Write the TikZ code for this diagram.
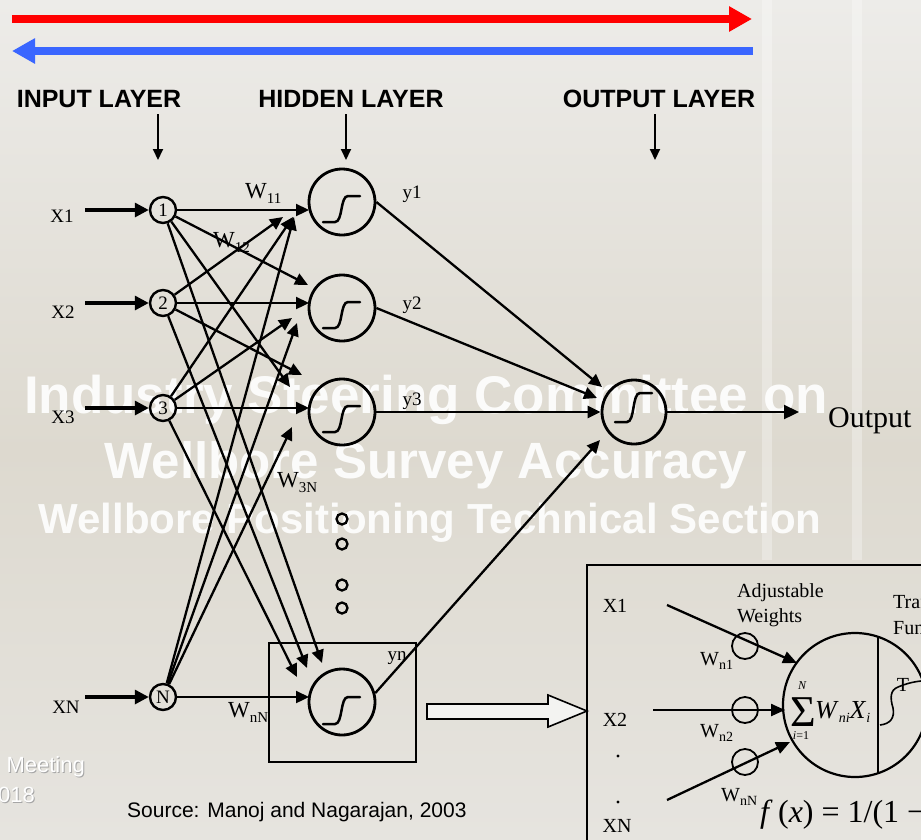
\documentclass[tikz,border=0pt]{standalone}
\usepackage{fontspec}
\setmainfont{Liberation Serif}
\newfontfamily\arialf{Liberation Sans}
\usetikzlibrary{arrows.meta,calc}
\definecolor{bgc}{RGB}{232,231,227}
\definecolor{bgtop}{RGB}{237,236,233}
\definecolor{bgmid}{RGB}{221,217,207}
\definecolor{bgbot}{RGB}{230,228,223}
\definecolor{redar}{RGB}{255,0,0}
\definecolor{bluear}{RGB}{58,102,255}
\newcommand{\fsz}[1]{\fontsize{#1}{#1}\selectfont}
\newcommand{\wsub}[1]{\raisebox{-5pt}{\fsz{15}#1}}
\newcommand{\isub}[1]{\raisebox{-4pt}{\fsz{14}#1}}
\newcommand{\sigm}[3]{\draw[sigline,shift={(#1)}] (-19,#2) -- (-7,#2) .. controls (1,#2) and (-2,#3) .. (6,#3) -- (18,#3);}
\tikzset{
  inode/.style={circle,draw,line width=2.4pt,minimum size=26pt,inner sep=0pt,font=\fsz{19}},
  hnode/.style={circle,draw,line width=2.8pt,minimum size=66pt,inner sep=0pt},
  conn/.style={line width=2.3pt,-{Triangle[length=13pt,width=12pt]}},
  inarrow/.style={line width=3.2pt,-{Triangle[length=14pt,width=14pt]}},
  downarrow/.style={line width=2pt,-{Triangle[length=11pt,width=10pt]}},
  lbl/.style={font=\fsz{19},inner sep=0pt},
  wl/.style={font=\fsz{23},inner sep=0pt,anchor=base west},
  iwl/.style={font=\fsz{20},inner sep=0pt,anchor=base west},
  layer/.style={font=\arialf\bfseries\fsz{25},inner sep=0pt,anchor=base},
  wm/.style={font=\arialf\bfseries,text=white,text opacity=0.9,inner sep=0pt,anchor=base},
  sigline/.style={line width=2.5pt,line cap=round},
  dotc/.style={circle,draw,line width=2.3pt,minimum size=11pt,inner sep=0pt},
  wcirc/.style={circle,draw,line width=1.8pt,minimum size=26pt,inner sep=0pt},
  iconn/.style={line width=2.3pt,-{Triangle[length=14pt,width=12pt]}},
  itext/.style={font=\fsz{20},inner sep=0pt}
}
\begin{document}
\begin{tikzpicture}[x=1pt,y=-1pt]
\useasboundingbox (0,0) rectangle (921,839);
\clip (0,0) rectangle (921,839);
\shade[top color=bgtop,bottom color=bgmid] (0,0) rectangle (921,450);
\shade[top color=bgmid,bottom color=bgbot] (0,449) rectangle (921,839);
\fill[white,fill opacity=0.3] (762,0) rectangle (772,560);
\fill[white,fill opacity=0.3] (852,0) rectangle (862,560);

% watermark
\node[wm,font=\arialf\bfseries\fsz{53}] (wm1) at (426,413) {Industry Steering Committee on};
\node[wm,font=\arialf\bfseries\fsz{51}] (wm2) at (426,478) {Wellbore Survey Accuracy};
\node[wm,font=\arialf\bfseries\fsz{42}] (wm3) at (430,533) {Wellbore Positioning Technical Section};

% meeting text
\node[font=\arialf\fsz{22},text=gray!70,inner sep=0pt,anchor=base east] (mt0) at (86,773) {Meeting};
\node[font=\arialf\fsz{22},text=white,inner sep=0pt,anchor=base east] (mt) at (85,772) {Meeting};
\node[font=\arialf\fsz{22},text=gray!70,inner sep=0pt,anchor=base east] (yr0) at (36,803) {018};
\node[font=\arialf\fsz{22},text=white,inner sep=0pt,anchor=base east] (yr) at (35,802) {018};

% top arrows
\coordinate (ra) at (12,19); \coordinate (rb) at (752,19);
\draw[line width=8pt,redar,-{Triangle[length=23pt,width=24pt]}] (ra) -- (rb);
\coordinate (ba) at (753,51); \coordinate (bb) at (12,51);
\draw[line width=8pt,bluear,-{Triangle[length=23pt,width=24pt]}] (ba) -- (bb);

% layer labels
\node[layer] (L1) at (99,107) {INPUT LAYER};
\node[layer] (L2) at (351,107) {HIDDEN LAYER};
\node[layer] (L3) at (659,107) {OUTPUT LAYER};
\coordinate (d1a) at (158,114); \coordinate (d1b) at (158,160);
\coordinate (d2a) at (346,114); \coordinate (d2b) at (346,160);
\coordinate (d3a) at (655,114); \coordinate (d3b) at (655,160);
\draw[downarrow] (d1a) -- (d1b);
\draw[downarrow] (d2a) -- (d2b);
\draw[downarrow] (d3a) -- (d3b);

% weight labels (behind lines)
\node[wl] (w11) at (245,198) {W\wsub{11}};
\node[wl] (w12) at (213,247) {W\wsub{12}};
\node[wl] (w3n) at (277,487) {W\wsub{3N}};
\node[wl] (wnn) at (228,717) {W\wsub{nN}};

% nodes
\node[inode] (in1) at (163,210) {1};
\node[inode] (in2) at (163,303) {2};
\node[inode] (in3) at (163,408) {3};
\node[inode] (inN) at (163,697) {N};
\node[hnode] (h1) at (342,202) {};
\node[hnode] (h2) at (342,308) {};
\node[hnode] (h3) at (342,412) {};
\node[hnode] (hn) at (342,702) {};
\node[hnode,minimum size=64pt] (out) at (634,412) {};
\sigm{h1}{20}{-6}
\sigm{h2}{20}{-6}
\sigm{h3}{20}{-6}
\sigm{hn}{22}{-5}
\sigm{out}{10}{-19}

\node[draw,line width=2.8pt,minimum width=147pt,minimum height=119pt,inner sep=0pt] (nbox) at (342.5,702.5) {};
\node[dotc] (dt1) at (342,519) {};
\node[dotc] (dt2) at (342,544) {};
\node[dotc] (dt3) at (342,585) {};
\node[dotc] (dt4) at (342,608) {};

% input labels and arrows
\node[lbl] (X1) at (62,216) {X1};
\node[lbl] (X2) at (63,312) {X2};
\node[lbl] (X3) at (63,417) {X3};
\node[lbl] (XN) at (66,707) {XN};
\coordinate (s1) at (85,210); \coordinate (s2) at (85,303);
\coordinate (s3) at (85,408); \coordinate (sN) at (85,697);
\draw[inarrow] (s1) -- (in1);
\draw[inarrow] (s2) -- (in2);
\draw[inarrow] (s3) -- (in3);
\draw[inarrow] (sN) -- (inN);

% input -> hidden
\draw[conn] (in1) -- ($(in1 -| h1)+(-33,0)$);
\draw[conn] (in2) -- ($(h1)+(-59,15)$);
\draw[conn] (in3) -- ($(h1)+(-49,15)$);
\draw[conn] (inN) -- ($(h1)+(-48,15)$);
\draw[conn] (in1) -- ($(h2)+(-34,-23)$);
\draw[conn] (in2) -- ($(in2 -| h2)+(-33,0)$);
\draw[conn] (in3) -- ($(h2)+(-50,10)$);
\draw[conn] (inN) -- ($(h2)+(-45,15)$);
\draw[conn] (in1) -- ($(h3)+(-52,-25)$);
\draw[conn] (in2) -- ($(h3)+(-40,-37)$);
\draw[conn] (in3) -- ($(in3 -| h3)+(-33,0)$);
\draw[conn] (inN) -- ($(h3)+(-50,15)$);
\draw[conn] (in1) -- ($(hn)+(-20,-39)$);
\draw[conn] (in2) -- ($(hn)+(-35,-34)$);
\draw[conn] (in3) -- ($(hn)+(-45,-25)$);
\draw[conn] (inN) -- ($(inN -| hn)+(-33,0)$);

% hidden -> output
\draw[conn] (h1.east) -- ($(out)+(-32,-25)$);
\draw[conn] (h2.east) -- ($(out)+(-37,-14)$);
\draw[conn] (h3.east) -- (out.west);
\draw[conn] (hn.15) -- ($(out)+(-34,28)$);
\node[lbl] (y1) at (412,194) {y1};
\node[lbl] (y2) at (412,305) {y2};
\node[lbl] (y3) at (412,401) {y3};
\node[lbl] (yn) at (397,658) {yn};

\node[font=\fsz{30},inner sep=0pt,anchor=base west] (outt) at (828,427) {Output};
\coordinate (oend) at (799,412);
\draw[line width=2.3pt,-{Triangle[length=15pt,width=14pt]}] (out.east) -- (oend);

% source
\node[font=\arialf\fsz{21},inner sep=0pt,anchor=base west] (src) at (127,817) {Source: Manoj and Nagarajan, 2003};

% hollow arrow
\draw[line width=1.6pt,fill=bgc!50!white] (427,704) -- (548,704) -- (548,695) -- (587,711) -- (548,727) -- (548,719) -- (427,719) -- cycle;

% inset
\draw[line width=2.8pt] (587,900) -- (587,565) -- (960,565);
\node[itext] (iX1) at (615,606) {X1};
\node[itext] (iX2) at (615,720) {X2};
\node[itext] (iXN) at (617,826) {XN};
\fill (618,756) circle (1.7);
\fill (618,802) circle (1.7);
\node[iwl] (adj) at (737,597) {Adjustable};
\node[iwl] (wgt) at (737,622) {Weights};
\node[iwl] (tra) at (893,608) {Transfer};
\node[iwl] (fun) at (893,634) {Function};
\node[circle,draw,line width=2.2pt,minimum size=144pt,inner sep=0pt] (sum) at (855,705) {};
\draw[line width=2.2pt] ($(sum)+(23,-68.2)$) -- ($(sum)+(23,68.2)$);
\node[wcirc] (wc1) at (745,646) {};
\node[wcirc] (wc2) at (745,710) {};
\node[wcirc] (wc3) at (745,762) {};
\coordinate (ix1) at (667,605); \coordinate (ix2) at (653,710); \coordinate (ixn) at (667,800);
\draw[iconn] (ix1) -- ($(sum)+(-58,-42)$);
\draw[iconn] (ix2) -- ($(sum)+(-70,5)$);
\draw[iconn] (ixn) -- ($(sum)+(-65,37)$);
\node[iwl] (wn1) at (700,665) {W\isub{n1}};
\node[iwl] (wn2) at (700,737) {W\isub{n2}};
\node[iwl] (wnN) at (721,801) {W\isub{nN}};
\node[font=\fsz{44},inner sep=0pt] (sig) at (803,712) {Σ};
\node[font=\itshape\fsz{12},inner sep=0pt] (sN) at (802,686) {N};
\node[font=\fsz{12},inner sep=0pt] (si1) at (801,736) {\textit{i}=1};
\node[font=\fsz{26},inner sep=0pt,anchor=base west] (wx) at (815,718) {\textit{W}\isub{\textit{ni}}\textit{X}\isub{\textit{i}}};
\node[font=\fsz{20},inner sep=0pt] (tT) at (903,685) {T};
\draw[line width=1.6pt] (880,725) .. controls (890,724) and (895,718) .. (893,708) .. controls (890,698) and (890,690) .. (898,687) .. controls (905,684) and (912,682) .. (921,681);
\node[font=\fsz{32},inner sep=0pt,anchor=base west] (fx) at (760,822) {\textit{f}\,(\textit{x}) = 1/(1 −};
\end{tikzpicture}
\end{document}
